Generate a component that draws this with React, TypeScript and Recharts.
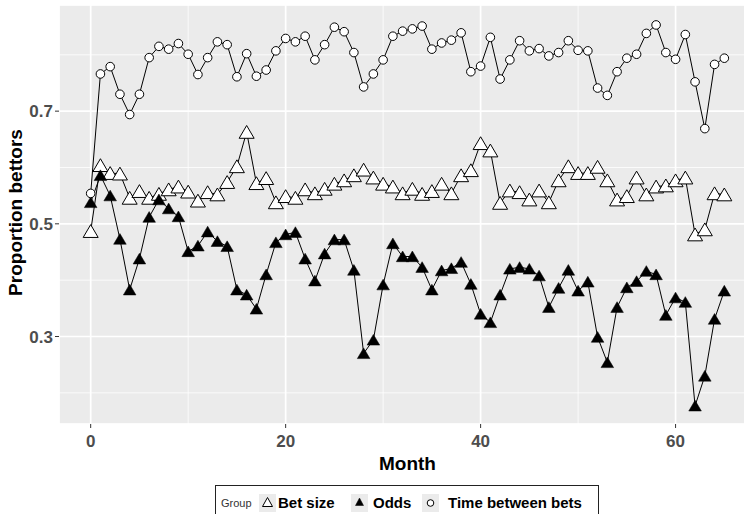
import React from 'react';
import { LineChart, Line, XAxis, YAxis, CartesianGrid, Label } from 'recharts';

const months = [0, 1, 2, 3, 4, 5, 6, 7, 8, 9, 10, 11, 12, 13, 14, 15, 16, 17, 18, 19, 20, 21, 22, 23, 24, 25, 26, 27, 28, 29, 30, 31, 32, 33, 34, 35, 36, 37, 38, 39, 40, 41, 42, 43, 44, 45, 46, 47, 48, 49, 50, 51, 52, 53, 54, 55, 56, 57, 58, 59, 60, 61, 62, 63, 64, 65];

const betSize = [0.487, 0.604, 0.590, 0.589, 0.546, 0.558, 0.546, 0.553, 0.561, 0.566,
  0.557, 0.541, 0.556, 0.552, 0.574, 0.602, 0.663, 0.572, 0.581, 0.538,
  0.549, 0.546, 0.561, 0.554, 0.562, 0.571, 0.577, 0.586, 0.596, 0.582,
  0.571, 0.566, 0.554, 0.562, 0.553, 0.558, 0.571, 0.554, 0.586, 0.595,
  0.643, 0.630, 0.537, 0.559, 0.556, 0.543, 0.559, 0.538, 0.577, 0.602,
  0.590, 0.590, 0.601, 0.577, 0.543, 0.549, 0.582, 0.552, 0.566, 0.568,
  0.577, 0.582, 0.481, 0.490, 0.554, 0.552];

const odds = [0.538, 0.586, 0.550, 0.473, 0.383, 0.438, 0.512, 0.543, 0.527, 0.513,
  0.451, 0.461, 0.486, 0.469, 0.460, 0.383, 0.374, 0.349, 0.410, 0.467,
  0.481, 0.485, 0.438, 0.399, 0.447, 0.472, 0.472, 0.418, 0.270, 0.294,
  0.392, 0.465, 0.442, 0.442, 0.423, 0.383, 0.417, 0.421, 0.432, 0.393,
  0.340, 0.325, 0.374, 0.420, 0.423, 0.420, 0.408, 0.352, 0.386, 0.418,
  0.381, 0.397, 0.299, 0.254, 0.352, 0.387, 0.398, 0.416, 0.410, 0.338,
  0.369, 0.361, 0.177, 0.230, 0.331, 0.381];

const timeBetween = [0.554, 0.766, 0.779, 0.730, 0.694, 0.730, 0.795, 0.815, 0.810, 0.820,
  0.801, 0.765, 0.795, 0.823, 0.818, 0.761, 0.802, 0.762, 0.773, 0.807,
  0.829, 0.823, 0.833, 0.791, 0.818, 0.849, 0.841, 0.804, 0.743, 0.766,
  0.791, 0.833, 0.842, 0.846, 0.851, 0.810, 0.821, 0.826, 0.839, 0.770,
  0.780, 0.831, 0.757, 0.791, 0.825, 0.807, 0.811, 0.798, 0.804, 0.825,
  0.808, 0.807, 0.741, 0.728, 0.770, 0.794, 0.801, 0.838, 0.853, 0.804,
  0.792, 0.836, 0.752, 0.669, 0.783, 0.794];

const xMajorTicks = [0, 20, 40, 60];
const xMinorTicks = [10, 30, 50];
const yMajorTicks = [0.3, 0.5, 0.7];
const yMinorTicks = [0.2, 0.4, 0.6, 0.8];
const xDomain = [-3.25, 68.25];
const yDomain = [0.1447, 0.8884];

const legendTitle = 'Group';
const seriesNames = ['Bet size', 'Odds', 'Time between bets'];

const data = months.map((m, i) => ({
  month: m,
  bet: betSize[i],
  odds: odds[i],
  time: timeBetween[i],
}));

const FONT = '"Liberation Sans", Arial, sans-serif';

const OpenTri = (p: any) => {
  const { cx, cy } = p;
  if (cx == null || cy == null) return null;
  return (
    <path
      d={`M${cx},${cy - 6.5} L${cx + 7.5},${cy + 6.3} L${cx - 7.5},${cy + 6.3} Z`}
      fill="#fff"
      stroke="#000"
      strokeWidth={1}
    />
  );
};

const FilledTri = (p: any) => {
  const { cx, cy } = p;
  if (cx == null || cy == null) return null;
  return (
    <path
      d={`M${cx},${cy - 5.5} L${cx + 6.3},${cy + 5.2} L${cx - 6.3},${cy + 5.2} Z`}
      fill="#000"
      stroke="#000"
      strokeWidth={0.5}
    />
  );
};

const OpenCircle = (p: any) => {
  const { cx, cy } = p;
  if (cx == null || cy == null) return null;
  return <circle cx={cx} cy={cy} r={4.3} fill="#fff" stroke="#000" strokeWidth={1} />;
};

const YTitle = (props: any) => {
  const vb = props.viewBox || { x: 0, y: 0, width: 0, height: 0 };
  const cx = vb.x + 15;
  const cy = vb.y + vb.height / 2 - 2;
  return (
    <text
      x={cx}
      y={cy}
      transform={`rotate(-90 ${cx} ${cy})`}
      textAnchor="middle"
      dominantBaseline="central"
      fontSize={19}
      fontWeight={700}
      fill="#000"
      fontFamily={FONT}
    >
      Proportion bettors
    </text>
  );
};

const tickStyle = { fontSize: 17, fontWeight: 700, fill: '#4D4D4D', fontFamily: FONT };

const keyBox: React.CSSProperties = {
  position: 'absolute',
  top: 8,
  width: 17,
  height: 18,
  background: '#EBEBEB',
};

const keyText: React.CSSProperties = {
  position: 'absolute',
  top: 7,
  fontSize: 15,
  fontWeight: 700,
  lineHeight: '20px',
  color: '#000',
  whiteSpace: 'nowrap',
};

export default function App() {
  return (
    <div
      style={{
        position: 'absolute',
        left: 0,
        top: 0,
        width: 744,
        height: 514,
        overflow: 'hidden',
        background: '#fff',
        fontFamily: FONT,
      }}
    >
      <LineChart
        width={756}
        height={514}
        data={data}
        margin={{ top: 5, right: 0, left: 0, bottom: 0 }}
        style={{ fontFamily: FONT }}
      >
        <XAxis
          xAxisId="minor"
          type="number"
          dataKey="month"
          domain={xDomain}
          ticks={xMinorTicks}
          allowDataOverflow
          hide
        />
        <YAxis
          yAxisId="minor"
          type="number"
          domain={yDomain}
          ticks={yMinorTicks}
          allowDataOverflow
          hide
        />
        <CartesianGrid
          xAxisId="minor"
          yAxisId="minor"
          fill="#EBEBEB"
          fillOpacity={1}
          stroke="#FFFFFF"
          strokeWidth={0.8}
        />
        <CartesianGrid stroke="#FFFFFF" strokeWidth={1.7} />
        <XAxis
          type="number"
          dataKey="month"
          domain={xDomain}
          ticks={xMajorTicks}
          allowDataOverflow
          height={90}
          axisLine={false}
          tickLine={{ stroke: '#333333', strokeWidth: 1 }}
          tickSize={4}
          tickMargin={7}
          tick={tickStyle}
        >
          <Label
            value="Month"
            position="insideBottom"
            offset={44}
            style={{ fontSize: 19, fontWeight: 700, fill: '#000', fontFamily: FONT }}
          />
        </XAxis>
        <YAxis
          type="number"
          domain={yDomain}
          ticks={yMajorTicks}
          allowDataOverflow
          width={59}
          axisLine={false}
          tickLine={{ stroke: '#333333', strokeWidth: 1 }}
          tickSize={4}
          tickMargin={2}
          tick={tickStyle}
          tickFormatter={(v: number) => v.toFixed(1)}
        >
          <Label content={<YTitle />} />
        </YAxis>
        <Line
          dataKey="bet"
          name={seriesNames[0]}
          stroke="#000"
          strokeWidth={1}
          isAnimationActive={false}
          dot={(p: any) => <OpenTri key={`b-${p.index}`} {...p} />}
        />
        <Line
          dataKey="odds"
          name={seriesNames[1]}
          stroke="#000"
          strokeWidth={1}
          isAnimationActive={false}
          dot={(p: any) => <FilledTri key={`o-${p.index}`} {...p} />}
        />
        <Line
          dataKey="time"
          name={seriesNames[2]}
          stroke="#000"
          strokeWidth={1}
          isAnimationActive={false}
          dot={(p: any) => <OpenCircle key={`t-${p.index}`} {...p} />}
        />
      </LineChart>

      <div
        style={{
          position: 'absolute',
          left: 215,
          top: 485,
          width: 384,
          height: 40,
          border: '1px solid #222',
          boxSizing: 'border-box',
          background: '#fff',
        }}
      >
        <span style={{ position: 'absolute', left: 5, top: 10, fontSize: 11, color: '#333', lineHeight: '14px' }}>
          {legendTitle}
        </span>
        <div style={{ ...keyBox, left: 43 }}>
          <svg width={17} height={18}>
            <path d="M8.5,3.5 L13.5,12.5 L3.5,12.5 Z" fill="#fff" stroke="#000" strokeWidth={1} />
          </svg>
        </div>
        <span style={{ ...keyText, left: 62 }}>{seriesNames[0]}</span>
        <div style={{ ...keyBox, left: 135 }}>
          <svg width={17} height={18}>
            <path d="M8.5,4 L12.5,11.5 L4.5,11.5 Z" fill="#000" stroke="#000" strokeWidth={0.5} />
          </svg>
        </div>
        <span style={{ ...keyText, left: 157 }}>{seriesNames[1]}</span>
        <div style={{ ...keyBox, left: 206 }}>
          <svg width={17} height={18}>
            <circle cx={8.5} cy={9} r={3.3} fill="#fff" stroke="#000" strokeWidth={1} />
          </svg>
        </div>
        <span style={{ ...keyText, left: 232 }}>{seriesNames[2]}</span>
      </div>
    </div>
  );
}
